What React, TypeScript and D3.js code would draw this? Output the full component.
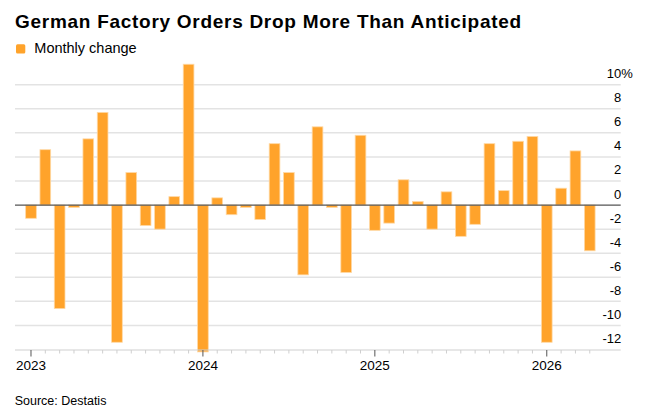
import React, { useEffect, useRef } from "react";
import * as d3 from "d3";

// monthly change in factory orders, Jan 2023 .. Apr 2026
const startYear = 2023;
const monthlyChange = [
  -1.1, 4.6, -8.6, -0.2, 5.5, 7.7, -11.4, 2.7, -1.7, -2.0, 0.7, 11.7,
  -12.2, 0.6, -0.8, -0.2, -1.2, 5.1, 2.7, -5.8, 6.5, -0.2, -5.6, 5.8,
  -2.1, -1.5, 2.1, 0.3, -2.0, 1.1, -2.6, -1.6, 5.1, 1.2, 5.3, 5.7,
  -11.4, 1.4, 4.5, -3.8,
];
const yearLabels = ["2023", "2024", "2025", "2026"];
const yTicks = [10, 8, 6, 4, 2, 0, -2, -4, -6, -8, -10, -12];

const WIDTH = 650;
const HEIGHT = 418;
const FONT = "'Liberation Sans', Arial, sans-serif";

const App = () => {
  const ref = useRef<SVGSVGElement | null>(null);

  useEffect(() => {
    drawChart();
    //eslint-disable-next-line
  }, []);

  function drawChart() {
    const svg = d3.select(ref.current);
    svg.selectAll("*").remove();

    const plotLeft = 15;
    const plotRight = 620.7;

    // month index -> x, bars centred on their month
    const x = d3.scaleLinear().domain([-1.116, 41.16]).range([plotLeft, plotRight]);
    const y = d3.scaleLinear().domain([-12, 10]).range([349.5, 84.7]);
    const barWidth = 10.7;

    // Title & legend
    svg
      .append("text")
      .attr("x", 15)
      .attr("y", 28.3)
      .attr("font-family", FONT)
      .attr("font-weight", "bold")
      .attr("font-size", 19)
      .attr("letter-spacing", 0.72)
      .attr("fill", "#000")
      .text("German Factory Orders Drop More Than Anticipated");

    svg
      .append("rect")
      .attr("x", 16)
      .attr("y", 44.3)
      .attr("width", 9.3)
      .attr("height", 9.3)
      .attr("rx", 1.5)
      .attr("fill", "#ffa32b");
    svg
      .append("text")
      .attr("x", 34.3)
      .attr("y", 53.3)
      .attr("font-family", FONT)
      .attr("font-size", 14.5)
      .attr("fill", "#000")
      .text("Monthly change");

    // Gridlines
    svg
      .append("g")
      .selectAll("line")
      .data(yTicks.filter((t) => t !== 0 && t !== -12))
      .enter()
      .append("line")
      .attr("x1", plotLeft)
      .attr("x2", plotRight)
      .attr("y1", (d) => y(d))
      .attr("y2", (d) => y(d))
      .attr("stroke", "#e3e3e3")
      .attr("stroke-width", 1.5);

    // Y tick labels, sitting above their gridline on the right
    const yLabels = svg.append("g").attr("font-family", FONT).attr("font-size", 13).attr("fill", "#000");
    yLabels
      .selectAll("text")
      .data(yTicks)
      .enter()
      .append("text")
      .attr("x", plotRight + 0.5)
      .attr("y", (d) => y(d) - 6.5)
      .attr("text-anchor", "end")
      .text((d) => `${d}`);
    yLabels
      .append("text")
      .attr("x", plotRight + 0.5)
      .attr("y", y(10) - 6.5)
      .text("%");

    // Bars
    svg
      .append("g")
      .selectAll("rect")
      .data(monthlyChange)
      .enter()
      .append("rect")
      .attr("x", (d, i) => x(i) - barWidth / 2)
      .attr("width", barWidth)
      .attr("y", (d) => y(Math.max(0, d)))
      .attr("height", (d) => Math.abs(y(d) - y(0)))
      .attr("fill", "#ffa32b")
      .attr("stroke", "#ffd9a6")
      .attr("stroke-width", 0.8);

    // Zero line
    svg
      .append("line")
      .attr("x1", plotLeft)
      .attr("x2", plotRight)
      .attr("y1", y(0))
      .attr("y2", y(0))
      .attr("stroke", "#555")
      .attr("stroke-width", 1.2);

    // X axis: month ticks, longer ones at each January
    const axisY = 350;
    const xAxis = svg.append("g");
    xAxis
      .append("line")
      .attr("x1", plotLeft)
      .attr("x2", plotRight)
      .attr("y1", axisY)
      .attr("y2", axisY)
      .attr("stroke", "#cfcfcf")
      .attr("stroke-width", 1.2);
    xAxis
      .selectAll("line.tick")
      .data(d3.range(monthlyChange.length))
      .enter()
      .append("line")
      .attr("class", "tick")
      .attr("x1", (d) => x(d))
      .attr("x2", (d) => x(d))
      .attr("y1", axisY)
      .attr("y2", (d) => (d % 12 === 0 ? axisY + 6.5 : axisY + 3.5))
      .attr("stroke", (d) => (d % 12 === 0 ? "#555" : "#cfcfcf"))
      .attr("stroke-width", 1);
    xAxis
      .selectAll("text")
      .data(yearLabels)
      .enter()
      .append("text")
      .attr("x", (d) => x((+d - startYear) * 12))
      .attr("y", 369.5)
      .attr("text-anchor", "middle")
      .attr("font-family", FONT)
      .attr("font-size", 13.5)
      .attr("fill", "#000")
      .text((d) => d);

    // Source
    svg
      .append("text")
      .attr("x", 14.7)
      .attr("y", 405.3)
      .attr("font-family", FONT)
      .attr("font-size", 12.5)
      .attr("fill", "#000")
      .text("Source: Destatis");
  }

  return (
    <svg
      ref={ref}
      width={WIDTH}
      height={HEIGHT}
      style={{ position: "absolute", left: 0, top: 0, background: "#fff" }}
    />
  );
};

export default App;
